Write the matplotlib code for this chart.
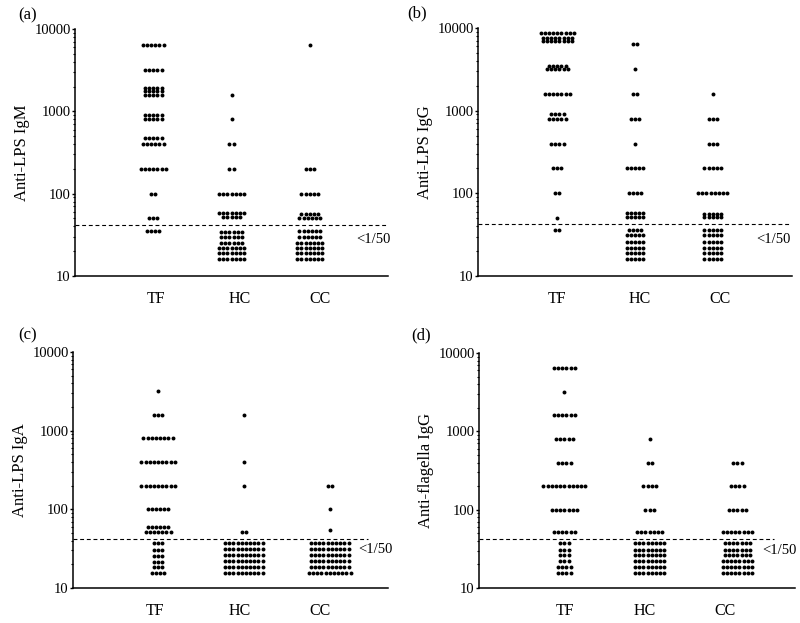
import numpy as np
import matplotlib
matplotlib.use('Agg')
import matplotlib.pyplot as plt
from matplotlib.ticker import FixedLocator, FixedFormatter, LogLocator, NullFormatter

plt.rcParams['font.family'] = ['Liberation Serif', 'DejaVu Serif']

groups = ['TF', 'HC', 'CC']
cutoff = 42

# panel (a) Anti-LPS IgM: titre values and number of sera at each
a_tf_vals = [6400, 3200, 1900, 1750, 1600, 900, 800, 480, 400, 200, 100, 50, 35]
a_tf_counts = [6, 5, 5, 5, 5, 5, 5, 5, 6, 7, 2, 3, 4]
a_hc_vals = [1600, 800, 400, 200, 100, 58, 52, 34, 30, 25, 22, 19, 16]
a_hc_counts = [1, 1, 2, 2, 7, 7, 5, 6, 6, 6, 7, 7, 7]
a_cc_vals = [6400, 200, 100, 56, 51, 35, 30, 25, 22, 19, 16]
a_cc_counts = [1, 3, 5, 5, 6, 6, 6, 7, 7, 7, 7]

# panel (b) Anti-LPS IgG
b_tf_vals = [8600, 7600, 6900, 3500, 3200, 1600, 900, 800, 400, 200, 100, 50, 36]
b_tf_counts = [9, 8, 8, 5, 6, 7, 4, 5, 4, 3, 2, 1, 2]
b_hc_vals = [6400, 3200, 1600, 800, 400, 200, 100, 58, 52, 36, 31, 26, 22, 19, 16]
b_hc_counts = [2, 1, 2, 3, 1, 5, 4, 5, 5, 4, 5, 5, 5, 5, 5]
b_cc_vals = [1600, 800, 400, 200, 100, 57, 52, 36, 31, 26, 22, 19, 16]
b_cc_counts = [1, 3, 3, 5, 8, 5, 5, 5, 5, 5, 5, 5, 5]

# panel (c) Anti-LPS IgA
c_tf_vals = [3200, 1600, 800, 400, 200, 100, 60, 52, 37, 30, 25.5, 21.5, 18.5, 15.5]
c_tf_counts = [1, 3, 8, 9, 9, 6, 6, 7, 3, 3, 3, 3, 3, 4]
c_hc_vals = [1600, 400, 200, 52, 37, 31, 26, 22, 18.5, 15.5]
c_hc_counts = [1, 1, 1, 2, 10, 10, 10, 10, 10, 10]
c_cc_vals = [200, 100, 54, 37, 31, 26, 22, 18.5, 15.5]
c_cc_counts = [2, 1, 1, 10, 10, 10, 10, 10, 11]

# panel (d) Anti-flagella IgG
d_tf_vals = [6400, 3200, 1600, 800, 400, 200, 100, 52, 37, 31, 26, 22, 18.5, 15.5]
d_tf_counts = [6, 1, 6, 5, 4, 11, 7, 6, 3, 3, 3, 3, 4, 4]
d_hc_vals = [800, 400, 200, 100, 52, 37, 31, 26, 22, 18.5, 15.5]
d_hc_counts = [1, 2, 4, 3, 7, 8, 8, 8, 8, 8, 8]
d_cc_vals = [400, 200, 100, 52, 37, 31, 26, 22, 18.5, 15.5]
d_cc_counts = [3, 4, 5, 8, 7, 7, 7, 8, 8, 8]

W, H = 800, 623
fig = plt.figure(figsize=(W / 100, H / 100), dpi=100)


def box(l, r, t, b):
    return [l / W, 1 - b / H, (r - l) / W, (b - t) / H]


panels = [
    ('(a)', (18, 15), 'Anti-LPS IgM', box(75, 388, 29, 276),
     [(a_tf_vals, a_tf_counts), (a_hc_vals, a_hc_counts), (a_cc_vals, a_cc_counts)],
     [1.0, 2.0, 3.0], [1.03, 2.11, 3.13], 4.0, (3.6, 27.5)),
    ('(b)', (407, 13), 'Anti-LPS IgG', box(478, 792, 28, 276),
     [(b_tf_vals, b_tf_counts), (b_hc_vals, b_hc_counts), (b_cc_vals, b_cc_counts)],
     [1.01, 2.0, 2.99], [1.0, 2.06, 3.08], 3.97, (3.55, 28)),
    ('(c)', (18, 335), 'Anti-LPS IgA', box(73, 388, 352, 588),
     [(c_tf_vals, c_tf_counts), (c_hc_vals, c_hc_counts), (c_cc_vals, c_cc_counts)],
     [1.08, 2.17, 3.26], [1.04, 2.12, 3.14], 3.75, (3.62, 31)),
    ('(d)', (411, 335), 'Anti-flagella IgG', box(479, 795, 353, 588),
     [(d_tf_vals, d_tf_counts), (d_hc_vals, d_hc_counts), (d_cc_vals, d_cc_counts)],
     [1.08, 2.16, 3.27], [1.09, 2.1, 3.11], 3.73, (3.59, 30)),
]

step = 0.053
for letter, lpos, ylabel, rect, data, xpos, tickpos, dash_end, lt in panels:
    ax = fig.add_axes(rect)
    for x0, (vals, counts) in zip(xpos, data):
        for v, n in zip(vals, counts):
            offs = (np.arange(n) - (n - 1) / 2) * step
            ax.scatter(x0 + offs, [v] * n, s=8, c='k', linewidths=0, zorder=3)
    ax.set_yscale('log')
    ax.set_ylim(10, 10000)
    ax.set_xlim(0, 4)
    ax.plot([0, dash_end], [cutoff, cutoff], color='k', lw=0.8, ls=(0, (3.5, 2.5)))
    ax.text(lt[0], lt[1], '<1/50', fontsize=10.5, va='center', ha='left')
    ax.spines['top'].set_visible(False)
    ax.spines['right'].set_visible(False)
    ax.spines['left'].set_linewidth(1.1)
    ax.spines['bottom'].set_linewidth(1.1)
    ax.yaxis.set_major_locator(FixedLocator([10, 100, 1000, 10000]))
    ax.yaxis.set_major_formatter(FixedFormatter(['10', '100', '1000', '10000']))
    ax.yaxis.set_minor_locator(LogLocator(base=10, subs=np.arange(2, 10)))
    ax.yaxis.set_minor_formatter(NullFormatter())
    ax.tick_params(axis='y', which='major', length=2.5, width=1, labelsize=10.5, pad=0.5)
    ax.tick_params(axis='y', which='minor', length=1.8, width=0.8)
    ax.set_xticks(tickpos)
    ax.set_xticklabels(groups, fontsize=11.5)
    ax.tick_params(axis='x', length=0, pad=11)
    ax.set_ylabel(ylabel, fontsize=12, labelpad=3)
    fig.text(lpos[0] / W, 1 - lpos[1] / H, letter, fontsize=12, va='center', ha='left')

fig.savefig('out.png', dpi=100)
